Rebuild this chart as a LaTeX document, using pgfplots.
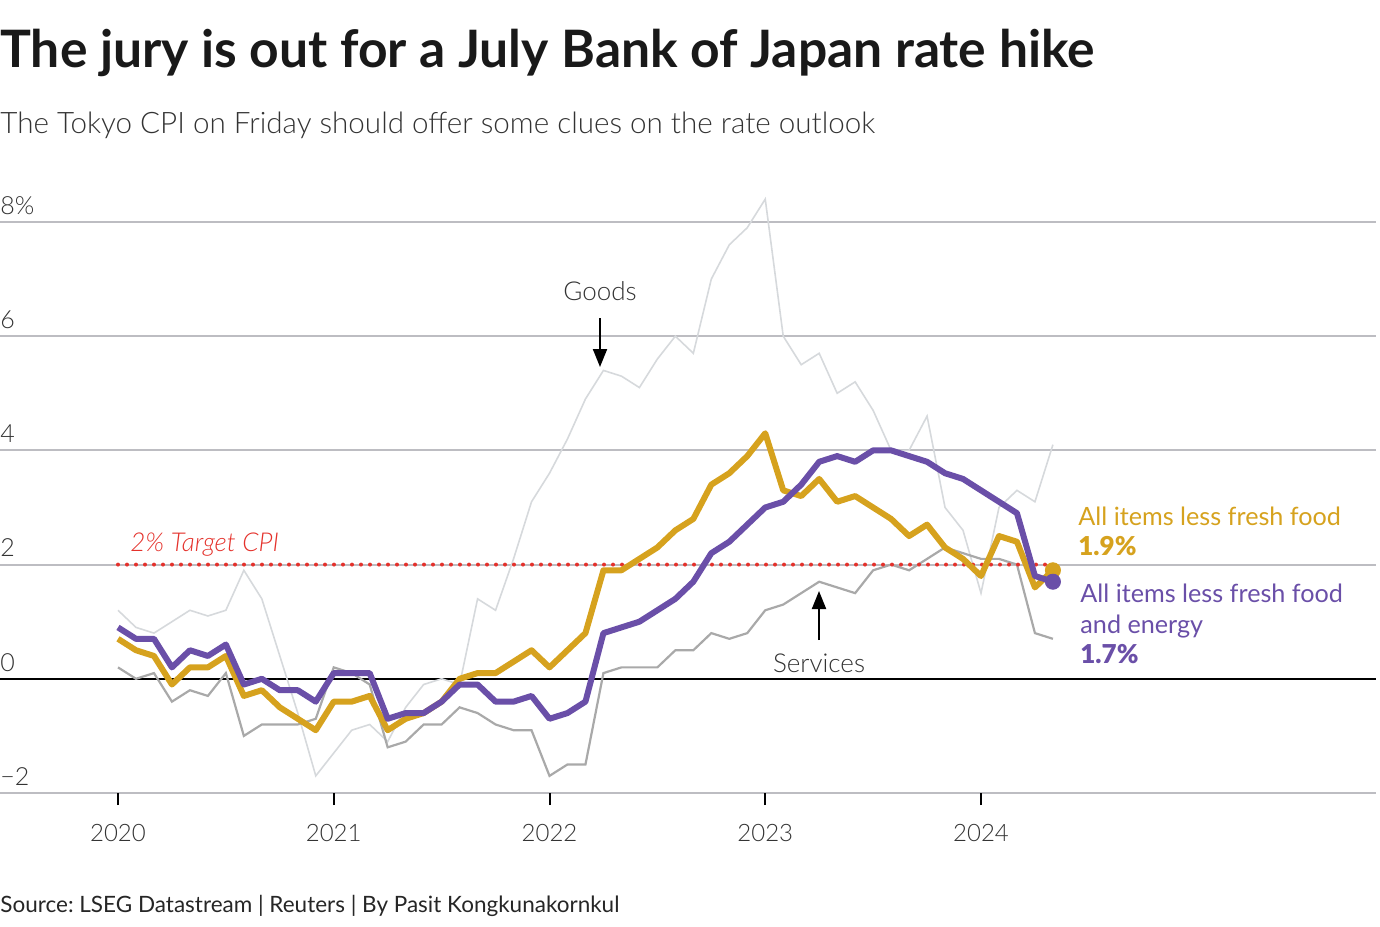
\documentclass[border=0pt]{standalone}
\usepackage{fontspec}
\setmainfont{Lato}
\newfontfamily\lightfont{Lato Light}[ItalicFont={Lato Light Italic}]
\newfontfamily\blackfont{Lato Black}
\usepackage{pgfplots}
\usepackage{pgfplotstable}
\pgfplotsset{compat=1.18}
\usetikzlibrary{arrows.meta}
\definecolor{gold}{HTML}{D6A21E}
\definecolor{purp}{HTML}{6A4FA8}
\definecolor{serv}{HTML}{A9A9A9}
\definecolor{goodsc}{HTML}{D6D9DC}
\definecolor{tgt}{HTML}{E4312B}
\definecolor{gridc}{HTML}{BDBDC2}
\definecolor{txt}{HTML}{333333}
\pgfplotstableread{
m gold purple serv goods
0 0.7 0.9 0.2 1.2
1 0.5 0.7 0.0 0.9
2 0.4 0.7 0.1 0.8
3 -0.1 0.2 -0.4 1.0
4 0.2 0.5 -0.2 1.2
5 0.2 0.4 -0.3 1.1
6 0.4 0.6 0.1 1.2
7 -0.3 -0.1 -1.0 1.9
8 -0.2 0.0 -0.8 1.4
9 -0.5 -0.2 -0.8 0.4
10 -0.7 -0.2 -0.8 -0.6
11 -0.9 -0.4 -0.7 -1.7
12 -0.4 0.1 0.2 -1.3
13 -0.4 0.1 0.1 -0.9
14 -0.3 0.1 -0.1 -0.8
15 -0.9 -0.7 -1.2 -1.1
16 -0.7 -0.6 -1.1 -0.5
17 -0.6 -0.6 -0.8 -0.1
18 -0.4 -0.4 -0.8 0.0
19 0.0 -0.1 -0.5 -0.1
20 0.1 -0.1 -0.6 1.4
21 0.1 -0.4 -0.8 1.2
22 0.3 -0.4 -0.9 2.1
23 0.5 -0.3 -0.9 3.1
24 0.2 -0.7 -1.7 3.6
25 0.5 -0.6 -1.5 4.2
26 0.8 -0.4 -1.5 4.9
27 1.9 0.8 0.1 5.4
28 1.9 0.9 0.2 5.3
29 2.1 1.0 0.2 5.1
30 2.3 1.2 0.2 5.6
31 2.6 1.4 0.5 6.0
32 2.8 1.7 0.5 5.7
33 3.4 2.2 0.8 7.0
34 3.6 2.4 0.7 7.6
35 3.9 2.7 0.8 7.9
36 4.3 3.0 1.2 8.4
37 3.3 3.1 1.3 6.0
38 3.2 3.4 1.5 5.5
39 3.5 3.8 1.7 5.7
40 3.1 3.9 1.6 5.0
41 3.2 3.8 1.5 5.2
42 3.0 4.0 1.9 4.7
43 2.8 4.0 2.0 4.0
44 2.5 3.9 1.9 4.0
45 2.7 3.8 2.1 4.6
46 2.3 3.6 2.3 3.0
47 2.1 3.5 2.2 2.6
48 1.8 3.3 2.1 1.5
49 2.5 3.1 2.1 3.0
50 2.4 2.9 2.0 3.3
51 1.6 1.8 0.8 3.1
52 1.9 1.7 0.7 4.1
}\data
\begin{document}
\frenchspacing
\begin{tikzpicture}
\useasboundingbox (0,0) rectangle (690pt,-463pt);
\begin{axis}[
  at={(0pt,-396.5pt)}, anchor=south west,
  scale only axis, width=688pt, height=302.65pt,
  xmin=-6.563, xmax=69.97, ymin=-2, ymax=8.6,
  axis line style={draw=none},
  ytick={-2,2,4,6,8}, yticklabels={}, ytick style={draw=none},
  extra y ticks={0}, extra y tick labels={},
  extra y tick style={major grid style={black, line width=1pt}},
  ymajorgrids, major grid style={gridc, line width=1pt},
  xtick={0,12,24,36,48}, xticklabels={2020,2021,2022,2023,2024},
  xtick pos=bottom,
  tick align=outside, major tick length=6pt,
  xtick style={black, line width=1pt},
  xticklabel style={font=\lightfont\fontsize{12}{14}\selectfont, text=txt, yshift=-6pt},
  clip=false,
]
\addplot[goodsc, line width=0.8pt] table[x=m,y=goods]{\data};
\addplot[serv, line width=1.1pt] table[x=m,y=serv]{\data};
\addplot[tgt, line width=2pt, line cap=round, dash pattern=on 0pt off 4.5pt] coordinates {(0,2) (51.6,2)};
\addplot[gold, line width=3pt, line join=round] table[x=m,y=gold]{\data};
\addplot[purp, line width=3pt, line join=round] table[x=m,y=purple]{\data};
\addplot[only marks, mark=*, gold, mark size=3.8pt] coordinates {(52,1.9)};
\addplot[only marks, mark=*, purp, mark size=3.8pt] coordinates {(52,1.7)};
\node[anchor=base west, inner sep=0pt, font=\lightfont\fontsize{12.5}{14}\selectfont, text=txt] at (axis cs:-6.563,-2) [yshift=3.8pt] {−2};
\node[anchor=base west, inner sep=0pt, font=\lightfont\fontsize{12.5}{14}\selectfont, text=txt] at (axis cs:-6.563,0) [yshift=3.8pt] {0};
\node[anchor=base west, inner sep=0pt, font=\lightfont\fontsize{12.5}{14}\selectfont, text=txt] at (axis cs:-6.563,2) [yshift=3.8pt] {2};
\node[anchor=base west, inner sep=0pt, font=\lightfont\fontsize{12.5}{14}\selectfont, text=txt] at (axis cs:-6.563,4) [yshift=3.8pt] {4};
\node[anchor=base west, inner sep=0pt, font=\lightfont\fontsize{12.5}{14}\selectfont, text=txt] at (axis cs:-6.563,6) [yshift=3.8pt] {6};
\node[anchor=base west, inner sep=0pt, font=\lightfont\fontsize{12.5}{14}\selectfont, text=txt] at (axis cs:-6.563,8) [yshift=3.8pt] {8\%};
\end{axis}
\node[anchor=base west, inner sep=0pt, font=\bfseries\fontsize{25.8}{30}\selectfont, text=black!90] at (0pt,-33.5pt) {The jury is out for a July Bank of Japan rate hike};
\node[anchor=base west, inner sep=0pt, font=\lightfont\fontsize{14.8}{18}\selectfont, text=txt] at (0pt,-66.5pt) {The Tokyo CPI on Friday should offer some clues on the rate outlook};
\node[font=\lightfont\fontsize{13}{15}\selectfont, text=txt] at (300pt,-145.5pt) {Goods};
\draw[-{Triangle[width=7pt,length=9pt]}, line width=1pt, black] (300pt,-159pt) -- (300pt,-183.5pt);
\node[font=\lightfont\fontsize{13}{15}\selectfont, text=txt] at (409.5pt,-331.5pt) {Services};
\draw[-{Triangle[width=7pt,length=9pt]}, line width=1pt, black] (409.5pt,-320pt) -- (409.5pt,-295.5pt);
\node[anchor=west, inner sep=0pt, font=\lightfont\itshape\fontsize{13}{15}\selectfont, text=tgt] at (65pt,-272.5pt) {2\% Target CPI};
\node[anchor=base west, inner sep=0pt, font=\fontsize{12.6}{15}\selectfont, text=gold] at (539pt,-262.5pt) {All items less fresh food};
\node[anchor=base west, inner sep=0pt, font=\blackfont\fontsize{13}{15}\selectfont, text=gold] at (539pt,-277.5pt) {1.9\%};
\node[anchor=base west, inner sep=0pt, font=\fontsize{12.6}{15}\selectfont, text=purp] at (540pt,-301.4pt) {All items less fresh food};
\node[anchor=base west, inner sep=0pt, font=\fontsize{12.6}{15}\selectfont, text=purp] at (540pt,-316.7pt) {and energy};
\node[anchor=base west, inner sep=0pt, font=\blackfont\fontsize{13}{15}\selectfont, text=purp] at (540pt,-331.7pt) {1.7\%};
\node[anchor=base west, inner sep=0pt, font=\fontsize{11.25}{14}\selectfont, text=black!85] at (0pt,-456pt) {Source: LSEG Datastream | Reuters | By Pasit Kongkunakornkul};
\end{tikzpicture}
\end{document}
